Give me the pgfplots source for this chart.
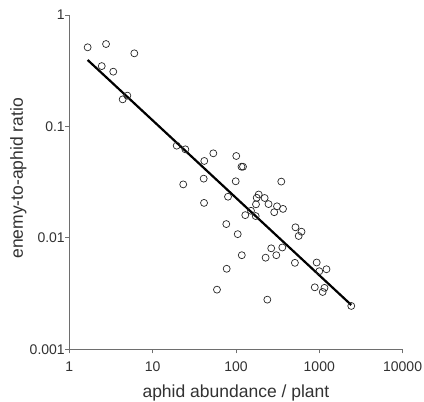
\documentclass[border=0pt]{standalone}
\usepackage{pgfplots}
\pgfplotsset{compat=1.18}
\usepackage{fontspec}
\setmainfont{Liberation Sans}
\definecolor{axisgray}{RGB}{110,110,110}
\definecolor{textgray}{RGB}{50,50,50}
\begin{document}
\begin{tikzpicture}
\begin{axis}[
  scale only axis,
  width=333.3pt, height=334.3pt,
  xmode=log, ymode=log,
  xmin=1, xmax=10000, ymin=0.001, ymax=1,
  axis x line*=bottom, axis y line*=left,
  axis line style={-, draw=axisgray, line width=0.8pt},
  every inner x axis line/.append style={-},
  every inner y axis line/.append style={-},
  every outer x axis line/.append style={-},
  every outer y axis line/.append style={-},
  xtick={1,10,100,1000,10000},
  xticklabels={1,10,100,1000,10000},
  ytick={0.001,0.01,0.1,1},
  yticklabels={0.001,0.01,0.1,1},
  xminorticks=false, yminorticks=false,
  tick align=outside,
  major tick length=4pt,
  tick style={draw=axisgray, line width=0.8pt},
  /pgf/number format/assume math mode=true,
  ticklabel style={font=\fontsize{14}{16}\selectfont, text=textgray},
  xticklabel style={yshift=-5pt},
  yticklabel style={xshift=3pt},
  label style={font=\fontsize{17.5}{20}\selectfont, text=textgray},
  xlabel={aphid abundance / plant},
  ylabel={enemy-to-aphid ratio},
  xlabel style={at={(axis description cs:0.5,-0.13)}, anchor=center},
  ylabel style={at={(axis description cs:-0.153,0.511)}, anchor=center},
  clip=false,
]
\addplot[only marks, mark=o, mark size=3.5pt, mark options={draw=black!85, line width=0.7pt}] coordinates {
(1.66,0.513) (2.76,0.549) (2.45,0.348) (3.37,0.310) (6.03,0.453)
(4.37,0.175) (4.97,0.189)
(19.45,0.0672) (24.7,0.0623) (41.7,0.0490) (53.5,0.0574) (100.9,0.0543)
(116.5,0.0435) (121.5,0.0435) (23.3,0.0302) (41.0,0.0340) (99.3,0.0322)
(350,0.0320) (41.4,0.0206) (80.3,0.0234) (187.5,0.0245) (177.4,0.0229)
(221,0.0228) (174,0.0200) (246,0.0201) (311,0.0192) (367,0.0182)
(288,0.0170) (151.5,0.0175) (129.4,0.0160) (172.6,0.0157) (76.6,0.0133)
(105,0.0108) (518,0.01244) (612,0.01136) (566,0.0104) (265,0.00806)
(360,0.0082) (117.5,0.00699) (227,0.00664) (305,0.00699) (510,0.00597)
(931,0.00601) (1220,0.00523) (1000,0.00502) (77.4,0.00528) (883,0.0036)
(1155,0.00356) (1099,0.00327) (59.2,0.00343) (238,0.00279) (2421,0.00245)
};
\addplot[black, line width=2.2pt, no marks] coordinates {(1.66,0.395) (2420,0.0025)};
\end{axis}
\pgfresetboundingbox
\useasboundingbox (current axis.south west) ++(-69.3pt,-52.7pt) rectangle ++(424pt,402pt);
\end{tikzpicture}
\end{document}
